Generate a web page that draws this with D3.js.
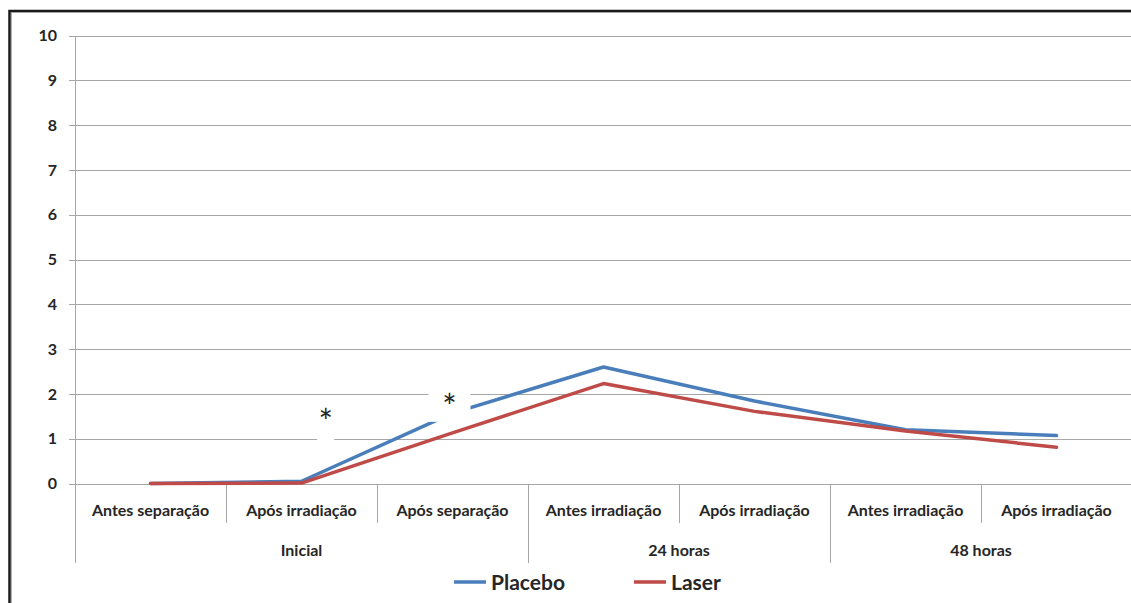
<!DOCTYPE html>
<html><head><meta charset="utf-8">
<script src="https://cdn.jsdelivr.net/npm/d3@7"></script>
<style>
html,body{margin:0;padding:0;background:#fff;}
svg{display:block;}
text{font-family:Lato,"Open Sans",sans-serif;fill:#262626;}
</style></head>
<body>
<svg id="chart" width="1131" height="603"></svg>
<script>
// ---- data ----
const subCategories = ["Antes separação","Após irradiação","Após separação","Antes irradiação","Após irradiação","Antes irradiação","Após irradiação"];
const groupNames = ["Inicial","24 horas","48 horas"];
const groupStarts = [0,3,5];
const groupEnds = [3,5,7];
const placebo = [0, 0.05, 1.57, 2.6, 1.84, 1.2, 1.07];
const laser = [0, 0.01, 1.13, 2.23, 1.61, 1.17, 0.81];
const seriesNames = ["Placebo","Laser"];
const yTicks = [0,1,2,3,4,5,6,7,8,9,10];
// significance marks: category index, offset within band, value
const markCat = [1, 2];
const markOffset = [0.16, -0.02];
const markValue = [1.55, 1.89];
const markText = ["*","*"];

(function(){
const colors = ["#4a7ebb","#be4b48"];
const svg = d3.select("#chart");

const pLeft = 75, pRight = 1132, pTop = 35.5, pBottom = 483.5;
const x = d3.scaleBand().domain(d3.range(subCategories.length)).range([pLeft, pRight]).padding(0);
const y = d3.scaleLinear().domain([0,10]).range([pBottom, pTop]);

// frame
svg.append("path").attr("d", `M1131,11 H9.5 V603`).attr("fill","none").attr("stroke","#1a1a1a").attr("stroke-width",2.5);
svg.append("path").attr("d", `M1131,12.5 H11.5 V603`).attr("fill","none").attr("stroke","#9a9a9a").attr("stroke-width",0.8);

// gridlines with y axis
const yAxis = d3.axisLeft(y).tickValues(yTicks).tickSize(-(pRight-pLeft)).tickSizeOuter(0).tickPadding(18).tickFormat(d3.format("d"));
const gY = svg.append("g").attr("transform",`translate(${pLeft},0)`).call(yAxis);
gY.select(".domain").remove();
gY.selectAll(".tick line").attr("stroke","#a6a6a6").attr("x1",-6).attr("shape-rendering","crispEdges");
gY.selectAll(".tick text").attr("font-size",16).attr("font-weight","bold").attr("font-family","Lato").attr("fill","#262626");

// vertical axis line
svg.append("line").attr("x1",pLeft).attr("x2",pLeft).attr("y1",pTop).attr("y2",563)
  .attr("stroke","#a6a6a6").attr("shape-rendering","crispEdges");

// category separators
d3.range(1, subCategories.length).forEach(i=>{
  const isGroup = groupStarts.includes(i);
  svg.append("line").attr("x1",x(i)).attr("x2",x(i)).attr("y1",pBottom).attr("y2", isGroup?563:523)
    .attr("stroke","#a6a6a6").attr("shape-rendering","crispEdges");
});

// category labels
svg.append("g").selectAll("text").data(subCategories).join("text")
  .attr("x",(d,i)=>x(i)+x.bandwidth()/2).attr("y",516)
  .attr("text-anchor","middle").attr("font-size",16).attr("font-weight","bold").text(d=>d);

// group labels
svg.append("g").selectAll("text").data(groupNames).join("text")
  .attr("x",(d,i)=>(x(groupStarts[i]) + x(groupEnds[i]-1)+x.bandwidth())/2).attr("y",556)
  .attr("text-anchor","middle").attr("font-size",16).attr("font-weight","bold").text(d=>d);

// lines
const line = d3.line().x((d,i)=>x(i)+x.bandwidth()/2).y(d=>y(d));
[placebo, laser].forEach((s,k)=>{
  svg.append("path").datum(s).attr("d",line).attr("fill","none")
    .attr("stroke",colors[k]).attr("stroke-width",3.5).attr("stroke-linejoin","round").attr("stroke-linecap","round");
});

// significance labels with white background
const boxW = [17, 42], boxUp = [18, 12], boxDown = [36, 23];
markCat.forEach((c,i)=>{
  const cx = x(c)+x.bandwidth()/2 + markOffset[i]*x.bandwidth();
  const cy = y(markValue[i]);
  svg.append("rect").attr("x",cx-boxW[i]/2).attr("y",cy-boxUp[i]).attr("width",boxW[i]).attr("height",boxUp[i]+boxDown[i]).attr("fill","#fff");
  svg.append("text").attr("x",cx).attr("y",cy+20).attr("text-anchor","middle")
    .attr("font-size",34).attr("font-family","DejaVu Sans").attr("fill","#1a1a1a").text(markText[i]);
});

// legend
const legX = [454, 634];
seriesNames.forEach((n,k)=>{
  svg.append("line").attr("x1",legX[k]).attr("x2",legX[k]+32).attr("y1",582).attr("y2",582)
    .attr("stroke",colors[k]).attr("stroke-width",3.5);
  svg.append("text").attr("x",legX[k]+37).attr("y",590).attr("font-size",21).attr("font-weight","bold").text(n);
});
})();
</script>
</body></html>
